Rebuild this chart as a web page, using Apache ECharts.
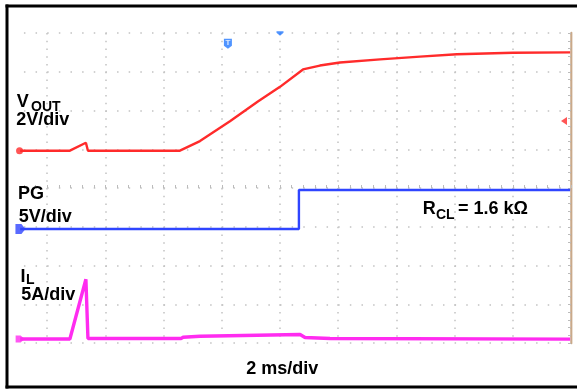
<!DOCTYPE html>
<html><head><meta charset="utf-8">
<script src="https://cdn.jsdelivr.net/npm/echarts@6/dist/echarts.min.js"></script>
<style>html,body{margin:0;padding:0;background:#fff;overflow:hidden}#c{position:absolute;left:-11px;top:0;width:588px;height:389px}</style>
</head><body><div id="c"></div>
<script>
// Time axis in ms (2 ms/div, 10 divisions), vertical in screen divisions (8 divisions)
const xMin = -10, xMax = 10, xInterval = 2;
const yMin = -4, yMax = 4, yInterval = 1;

// VOUT (red) trace, divisions
const vOutTime = [-8.93, -7.22, -6.67, -6.60, -3.44, -2.75, -1.72, -0.76, 0, 0.79, 1.37, 2.06, 3.44, 4.81, 6.08, 8.01, 9.97];
const vOutDiv  = [0.963, 0.963, 1.169, 0.963, 0.963, 1.21, 1.72, 2.23, 2.61, 3.06, 3.16, 3.24, 3.32, 3.39, 3.45, 3.49, 3.50];

// PG (blue) trace
const pgTime = [-8.93, 0.65, 0.65, 9.97];
const pgDiv  = [-1.058, -1.058, -0.052, -0.052];

// IL (magenta) trace
const ilTime = [-8.93, -7.22, -6.67, -6.60, -3.40, -3.33, -2.75, 0.69, 0.86, 1.72, 9.97];
const ilDiv  = [-3.897, -3.897, -2.356, -3.884, -3.884, -3.853, -3.825, -3.78, -3.858, -3.884, -3.90];

// channel ground markers (time, div)
const vOutGround = [-8.95, 0.963];
const pgGround = [-8.92, -1.058];
const ilGround = [-8.93, -3.897];
// trigger markers
const trigLevel = [9.76, 1.73];
const trigT = [-1.79, 3.72];
const trigPos = [0, 3.985];

const RED = '#ff2b2b', BLUE = '#2f45ff', PINK = '#ff2cf0', TBLUE = '#2479ff';
const FONT = '"Liberation Sans", Arial, sans-serif';
const OX = 11; // chart container is shifted 11px left of the page

function zip(a, b) { return a.map((v, i) => [v, b[i]]); }

const chart = echarts.init(document.getElementById('c'), null, {renderer: 'canvas'});

function txt(x, y, t, size) {
  return {type: 'text', x: x + OX, y: y, z: 10,
    style: {text: t, font: 'bold ' + size + 'px ' + FONT, fill: '#000', verticalAlign: 'middle', align: 'left'}};
}
function frameLine(x1, y1, x2, y2) {
  return {type: 'line', z: 20, shape: {x1: x1 + OX, y1: y1, x2: x2 + OX, y2: y2},
    style: {stroke: '#000', lineWidth: 3}};
}

chart.setOption({
  animation: false,
  backgroundColor: '#fff',
  grid: {left: 0, right: 6, top: 33, bottom: 46, show: false},
  xAxis: {
    type: 'value', min: xMin, max: xMax, interval: xInterval,
    axisLine: {show: false},
    axisLabel: {show: false},
    axisTick: {show: true, inside: true, length: 3, lineStyle: {color: '#bbbbbb', width: 1}},
    minorTick: {show: true, splitNumber: 5, length: 3, lineStyle: {color: '#bbbbbb', width: 1}},
    splitLine: {show: true, lineStyle: {color: '#c2c2c2', width: 1.5, type: [1.5, 6.25]}}
  },
  yAxis: {
    type: 'value', min: yMin, max: yMax, interval: yInterval, position: 'right',
    axisLine: {show: true, onZero: false, lineStyle: {color: '#c9a98a', width: 2.5}},
    axisLabel: {show: false},
    axisTick: {show: true, inside: true, length: 3, lineStyle: {color: '#bbbbbb', width: 1}},
    minorTick: {show: true, splitNumber: 5, length: 3, lineStyle: {color: '#bbbbbb', width: 1}},
    splitLine: {show: true, lineStyle: {color: '#c2c2c2', width: 1.5, type: [1.5, 10.14]}}
  },
  series: [
    {type: 'line', data: zip(vOutTime, vOutDiv), showSymbol: false, lineStyle: {color: RED, width: 2.4}, z: 3},
    {type: 'line', data: zip(pgTime, pgDiv), showSymbol: false, lineStyle: {color: BLUE, width: 2.4}, z: 3},
    {type: 'line', data: zip(ilTime, ilDiv), showSymbol: false, lineStyle: {color: PINK, width: 3.4}, z: 3},
    {type: 'scatter', data: [vOutGround], symbol: 'circle', symbolSize: 7, itemStyle: {color: RED}, z: 4},
    {type: 'scatter', data: [pgGround], symbol: 'path://M0,0 L6,0 L10,5 L6,10 L0,10 Z', symbolSize: [10, 10], itemStyle: {color: BLUE}, z: 4},
    {type: 'scatter', data: [ilGround], symbol: 'path://M0,1 L5,1 L9,4 L5,7 L0,7 Z', symbolSize: [9, 7], itemStyle: {color: PINK}, z: 4},
    {type: 'scatter', data: [trigLevel], symbol: 'path://M0,4 L6,0 L6,8 Z', symbolSize: [6, 8], itemStyle: {color: RED}, z: 4},
    {type: 'scatter', data: [trigT], symbol: 'path://M0,0 L8,0 L8,7 L4,10 L0,7 Z', symbolSize: [8, 10], itemStyle: {color: TBLUE}, z: 4,
      label: {show: true, position: 'inside', formatter: 'T', color: '#fff', fontSize: 8, fontWeight: 'bold', offset: [0, -1]}},
    {type: 'scatter', data: [trigPos], symbol: 'path://M0,0 L8,0 L8,2 L4,6 L0,2 Z', symbolSize: [7, 4.5], itemStyle: {color: TBLUE}, z: 4}
  ],
  graphic: [
    {type: 'rect', z: 1, shape: {x: 0, y: 0, width: 15 + OX, height: 389}, style: {fill: '#fff'}},
    {type: 'rect', z: 19, shape: {x: 572.5 + OX, y: 8, width: 10, height: 377}, style: {fill: '#fff'}},
    frameLine(7, 4.5, 7, 388.5),
    frameLine(5.5, 6, 600, 6),
    frameLine(5.5, 387, 600, 387),
    txt(16.7, 102.5, 'V', 18),
    txt(31, 107, 'OUT', 14),
    txt(16.2, 120.5, '2V/div', 18),
    txt(18, 194.5, 'PG', 18),
    txt(18.8, 217.5, '5V/div', 18),
    txt(20.4, 277, 'I', 18),
    txt(26, 280.5, 'L', 14),
    txt(21.2, 295, '5A/div', 18),
    txt(422.7, 208.7, 'R', 18),
    txt(436, 215, 'CL', 14),
    txt(458, 208.7, '= 1.6 kΩ', 18),
    txt(246.2, 368.9, '2 ms/div', 18)
  ]
});
</script>
</body></html>
